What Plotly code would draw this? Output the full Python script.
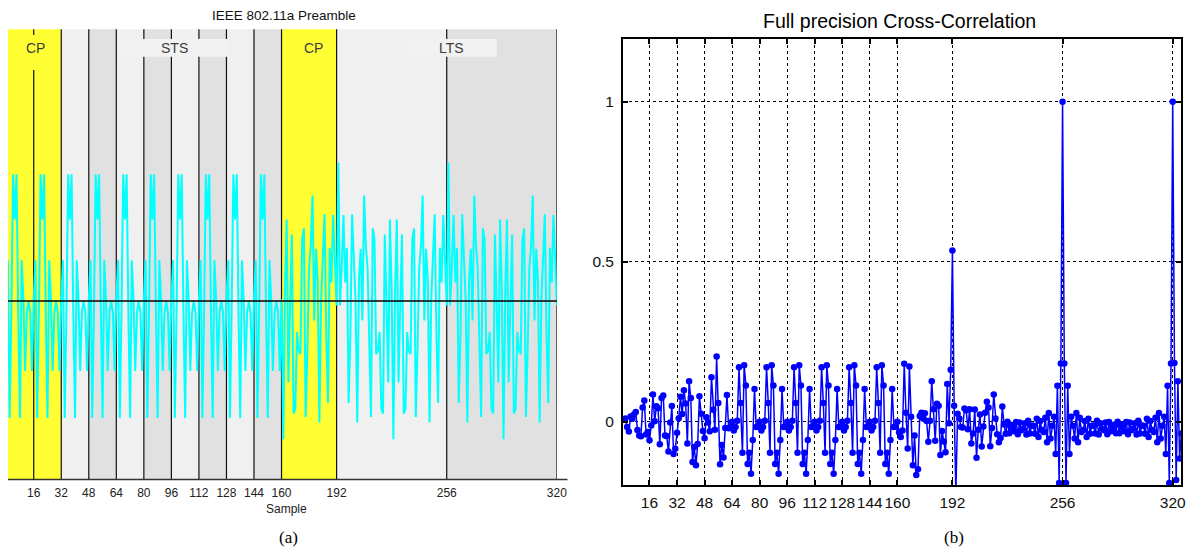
import plotly.graph_objects as go

# ---------------- data ----------------
# (a) real part of the 802.11a preamble, samples 1..160 (short training symbols)
sts_re = [
    0.046, -0.132, -0.013, 0.143, 0.092, 0.143, -0.013, -0.132, 0.046, 0.002, -0.079, -0.013, 0.000, -0.013, -0.079, 0.002,
    0.046, -0.132, -0.013, 0.143, 0.092, 0.143, -0.013, -0.132, 0.046, 0.002, -0.079, -0.013, 0.000, -0.013, -0.079, 0.002,
    0.046, -0.132, -0.013, 0.143, 0.092, 0.143, -0.013, -0.132, 0.046, 0.002, -0.079, -0.013, 0.000, -0.013, -0.079, 0.002,
    0.046, -0.132, -0.013, 0.143, 0.092, 0.143, -0.013, -0.132, 0.046, 0.002, -0.079, -0.013, 0.000, -0.013, -0.079, 0.002,
    0.046, -0.132, -0.013, 0.143, 0.092, 0.143, -0.013, -0.132, 0.046, 0.002, -0.079, -0.013, 0.000, -0.013, -0.079, 0.002,
    0.046, -0.132, -0.013, 0.143, 0.092, 0.143, -0.013, -0.132, 0.046, 0.002, -0.079, -0.013, 0.000, -0.013, -0.079, 0.002,
    0.046, -0.132, -0.013, 0.143, 0.092, 0.143, -0.013, -0.132, 0.046, 0.002, -0.079, -0.013, 0.000, -0.013, -0.079, 0.002,
    0.046, -0.132, -0.013, 0.143, 0.092, 0.143, -0.013, -0.132, 0.046, 0.002, -0.079, -0.013, 0.000, -0.013, -0.079, 0.002,
    0.046, -0.132, -0.013, 0.143, 0.092, 0.143, -0.013, -0.132, 0.046, 0.002, -0.079, -0.013, 0.000, -0.013, -0.079, 0.002,
    0.046, -0.132, -0.013, 0.143, 0.092, 0.143, -0.013, -0.132, 0.046, 0.002, -0.079, -0.013, 0.000, -0.013, -0.079, 0.002,
]
# samples 161..320 (CP + two long training symbols)
lts_re = [
    -0.156, 0.012, 0.092, -0.092, -0.003, 0.075, -0.127, -0.122, -0.035, -0.056, -0.060, 0.070, 0.082, -0.131, -0.057, 0.037,
    0.062, 0.119, -0.022, 0.059, 0.024, -0.137, 0.001, 0.053, 0.098, -0.038, -0.115, 0.060, 0.021, 0.097, 0.040, -0.005,
    0.156, -0.005, 0.040, 0.097, 0.021, 0.060, -0.115, -0.038, 0.098, 0.053, 0.001, -0.137, 0.024, 0.059, -0.022, 0.119,
    0.062, 0.037, -0.057, -0.131, 0.082, 0.070, -0.060, -0.056, -0.035, -0.122, -0.127, 0.075, -0.003, -0.092, 0.092, 0.012,
    -0.156, 0.012, 0.092, -0.092, -0.003, 0.075, -0.127, -0.122, -0.035, -0.056, -0.060, 0.070, 0.082, -0.131, -0.057, 0.037,
    0.062, 0.119, -0.022, 0.059, 0.024, -0.137, 0.001, 0.053, 0.098, -0.038, -0.115, 0.060, 0.021, 0.097, 0.040, -0.005,
    0.156, -0.005, 0.040, 0.097, 0.021, 0.060, -0.115, -0.038, 0.098, 0.053, 0.001, -0.137, 0.024, 0.059, -0.022, 0.119,
    0.062, 0.037, -0.057, -0.131, 0.082, 0.070, -0.060, -0.056, -0.035, -0.122, -0.127, 0.075, -0.003, -0.092, 0.092, 0.012,
    -0.156, 0.012, 0.092, -0.092, -0.003, 0.075, -0.127, -0.122, -0.035, -0.056, -0.060, 0.070, 0.082, -0.131, -0.057, 0.037,
    0.062, 0.119, -0.022, 0.059, 0.024, -0.137, 0.001, 0.053, 0.098, -0.038, -0.115, 0.060, 0.021, 0.097, 0.040, -0.005,
]

# (b) cross-correlation, lags 1..160
xcorr_sts = [
    0.007, 0.010, -0.017, -0.031, 0.016, 0.009, 0.022, 0.030, -0.026, -0.043, -0.046, 0.044, 0.066, -0.040, -0.032, -0.058,
    -0.012, 0.085, 0.001, 0.048, 0.042, -0.071, 0.074, 0.082, -0.043, -0.045, -0.093, -0.003, 0.049, -0.101, -0.085, -0.035,
    0.011, 0.078, 0.024, 0.098, 0.057, -0.068, 0.126, 0.074, -0.126, -0.079, -0.136, -0.070, 0.079, 0.025, -0.029, -0.052,
    0.014, -0.003, -0.030, 0.139, 0.037, -0.025, 0.204, 0.058, -0.133, -0.073, -0.112, -0.020, 0.083, -0.021, -0.016, 0.000,
    -0.028, -0.017, 0.003, 0.170, 0.058, -0.097, 0.176, 0.113, -0.132, -0.097, -0.163, -0.057, 0.102, -0.017, -0.016, 0.000,
    -0.028, -0.017, 0.003, 0.170, 0.058, -0.097, 0.176, 0.113, -0.132, -0.097, -0.163, -0.057, 0.102, -0.017, -0.016, 0.000,
    -0.028, -0.017, 0.003, 0.170, 0.058, -0.097, 0.176, 0.113, -0.132, -0.097, -0.163, -0.057, 0.102, -0.017, -0.016, 0.000,
    -0.028, -0.017, 0.003, 0.170, 0.058, -0.097, 0.176, 0.113, -0.132, -0.097, -0.163, -0.057, 0.102, -0.017, -0.016, 0.000,
    -0.028, -0.017, 0.003, 0.170, 0.058, -0.097, 0.176, 0.113, -0.132, -0.097, -0.163, -0.057, 0.102, -0.017, -0.016, 0.000,
    -0.028, -0.017, 0.003, 0.170, 0.058, -0.097, 0.176, 0.113, -0.132, -0.097, -0.163, -0.057, 0.102, -0.017, -0.016, 0.000,
]
# lags 161..325
xcorr_lts = [
    -0.033, -0.048, -0.028, 0.181, 0.028, -0.084, 0.172, 0.015, -0.136, -0.043, -0.167, -0.149, 0.018, 0.028, 0.010, 0.026,
    0.002, -0.063, 0.003, 0.126, 0.039, -0.060, 0.056, 0.050, -0.104, -0.029, -0.062, -0.096, 0.118, -0.005, 0.162, 0.535,
    0.050, -0.223, 0.025, 0.010, -0.017, -0.018, 0.041, 0.036, -0.024, 0.039, -0.068, -0.037, 0.038, -0.113, -0.025, 0.022,
    -0.078, -0.015, 0.028, 0.062, 0.044, -0.077, -0.020, 0.085, 0.010, -0.039, -0.064, -0.051, 0.047, -0.009, -0.038, 0.000,
    -0.036, -0.010, -0.018, -0.030, -0.001, -0.039, -0.003, -0.027, -0.022, -0.005, -0.040, 0.003, -0.037, -0.012, -0.013, -0.038,
    0.009, -0.048, 0.002, -0.026, -0.032, 0.012, -0.064, 0.027, -0.053, -0.013, 0.015, -0.101, 0.112, -0.192, 0.182, 1.000,
    0.182, -0.192, 0.112, -0.101, 0.015, -0.013, -0.053, 0.027, -0.064, 0.012, -0.032, -0.026, 0.002, -0.048, 0.009, -0.038,
    -0.013, -0.012, -0.037, 0.003, -0.040, -0.005, -0.022, -0.027, -0.003, -0.039, -0.001, -0.030, -0.018, -0.010, -0.036, 0.000,
    -0.036, -0.010, -0.018, -0.030, -0.001, -0.039, -0.003, -0.027, -0.022, -0.005, -0.040, 0.003, -0.037, -0.012, -0.013, -0.038,
    0.009, -0.048, 0.002, -0.026, -0.032, 0.012, -0.064, 0.027, -0.053, -0.013, 0.015, -0.101, 0.112, -0.192, 0.182, 1.000,
    0.183, -0.182, 0.126, -0.115, -0.037,
]

sample_ticks = [16, 32, 48, 64, 80, 96, 112, 128, 144, 160, 192, 256, 320]
corr_yticks = [0, 0.5, 1]

# preamble segments (band boundaries and colours)
band_edges = [1, 32, 48, 64, 80, 96, 112, 128, 144, 160, 192, 256, 320]
band_colors = ['#ffff33', '#f0f0f0', '#e1e1e1', '#f0f0f0', '#e1e1e1', '#f0f0f0', '#e1e1e1',
               '#f0f0f0', '#e1e1e1', '#ffff33', '#f0f0f0', '#e1e1e1']
seg_labels = ['CP', 'STS', 'CP', 'LTS']

preamble = sts_re + lts_re
samples = list(range(1, len(preamble) + 1))
xcorr = xcorr_sts + xcorr_lts
lags = list(range(1, len(xcorr) + 1))

# ---------------- layout helpers ----------------
REF_W, H = 1197, 549       # reference picture size
FIG_W = 1208               # page width that ends up squeezed into the 1197 px picture
def fx(px): return px / REF_W
def fy(py): return 1 - py / H

FONT = 'Liberation Sans, Arial, sans-serif'
SERIF = 'Liberation Serif, Times New Roman, serif'

fig = go.Figure()
fig.add_trace(go.Scatter(x=samples, y=preamble, mode='lines',
                         line=dict(color='#00ffff', width=2),
                         xaxis='x', yaxis='y', showlegend=False, hoverinfo='skip'))
fig.add_trace(go.Scatter(x=lags, y=xcorr, mode='lines+markers',
                         line=dict(color='#0000ff', width=1.5),
                         marker=dict(color='#0000ff', size=6.5),
                         xaxis='x2', yaxis='y2', showlegend=False))

shapes = []
# background bands
for i, c in enumerate(band_colors):
    shapes.append(dict(type='rect', xref='x', yref='y domain', x0=band_edges[i], x1=band_edges[i + 1],
                       y0=0, y1=1, fillcolor=c, line=dict(width=0), layer='below'))
# vertical sample lines
for t in sample_ticks:
    shapes.append(dict(type='line', xref='x', yref='y domain', x0=t, x1=t, y0=0, y1=1,
                       line=dict(color='#111111', width=1.2), layer='below'))
# label backgrounds
shapes.append(dict(type='rect', xref='x', yref='paper', x0=11, x1=23, y0=fy(70), y1=fy(35),
                   fillcolor='#ffff33', line=dict(width=0), layer='below'))
shapes.append(dict(type='rect', xref='x', yref='paper', x0=65, x1=129, y0=fy(56.7), y1=fy(39),
                   fillcolor='#f2f2f2', line=dict(width=0), layer='below'))
shapes.append(dict(type='rect', xref='x', yref='paper', x0=233, x1=285, y0=fy(56.7), y1=fy(39),
                   fillcolor='#f2f2f2', line=dict(width=0), layer='below'))
# zero line (a)
shapes.append(dict(type='line', xref='x domain', yref='y', x0=0, x1=1, y0=0, y1=0,
                   line=dict(color='black', width=1.4), layer='above'))
# bottom axis stub (a)
shapes.append(dict(type='line', xref='paper', yref='paper', x0=fx(8), x1=fx(567), y0=fy(479.5), y1=fy(479.5),
                   line=dict(color='#333333', width=1.5)))

def label(text, x, y, size, family=FONT, color='#000000', xref='paper'):
    return dict(text=text, x=x, y=y, xref=xref, yref='paper', xanchor='center', yanchor='middle',
                showarrow=False, font=dict(family=family, size=size, color=color))

annotations = [
    label('IEEE 802.11a Preamble', fx(284), fy(16), 13.5, color='#111111'),
    label('Full precision Cross-Correlation', fx(899), fy(21), 19.5),
    label('Sample', fx(286), fy(509), 12, color='#222222'),
    label('(a)', fx(288), fy(537), 17, family=SERIF),
    label('(b)', fx(953), fy(537), 17, family=SERIF),
]
for lab, xc in zip(seg_labels, [17.3, 97.7, 178.4, 259]):
    annotations.append(label(lab, xc, fy(47.7), 14, color='#3c3c3c', xref='x'))

fig.update_layout(
    width=FIG_W, height=H, autosize=False, margin=dict(l=0, r=0, t=0, b=0),
    paper_bgcolor='white', plot_bgcolor='white',
    font=dict(family=FONT),
    shapes=shapes, annotations=annotations,
    xaxis=dict(domain=[fx(7.9), fx(556.4)], range=[1, 320], tickvals=sample_ticks, tickangle=0,
               showgrid=False, zeroline=False, showline=False, ticks='',
               ticklabelstandoff=5, tickfont=dict(size=12, color='#222222')),
    yaxis=dict(domain=[fy(479), fy(29.3)], range=[-0.2009, 0.3067], showticklabels=False,
               showgrid=False, zeroline=False, showline=False, ticks=''),
    xaxis2=dict(domain=[fx(622.3), fx(1180)], range=[0.5, 324.8], anchor='y2',
                tickvals=sample_ticks, tickangle=0,
                showgrid=True, griddash='dot', gridcolor='#000000', gridwidth=1, zeroline=False,
                showline=True, mirror='ticks', linecolor='black', linewidth=1.5,
                ticks='inside', ticklen=5, tickwidth=1.5, tickcolor='black',
                ticklabelstandoff=3, tickfont=dict(size=15.5, color='#111111')),
    yaxis2=dict(domain=[fy(485), fy(39.3)], range=[-0.198, 1.195], anchor='x2',
                tickvals=corr_yticks, ticktext=['0', '0.5', '1'],
                showgrid=True, griddash='dot', gridcolor='#000000', gridwidth=1, zeroline=False,
                showline=True, mirror='ticks', linecolor='black', linewidth=1.5,
                ticks='inside', ticklen=5, tickwidth=1.5, tickcolor='black',
                ticklabelstandoff=4, tickfont=dict(size=15.5, color='#111111')),
)

fig.write_html("out.html",
               config={'responsive': False, 'displayModeBar': False},
               post_script="document.body.style.margin='0';document.body.style.padding='0';"
                           "document.documentElement.style.overflow='hidden';")
